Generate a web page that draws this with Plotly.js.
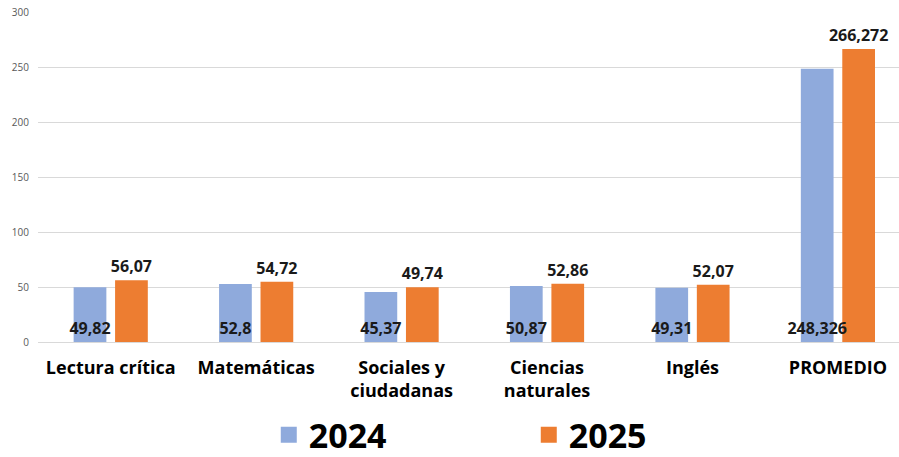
<!DOCTYPE html>
<html>
<head>
<meta charset="utf-8">
<script src="https://cdn.plot.ly/plotly-3.0.1.min.js"></script>
<style>html,body{margin:0;padding:0;background:#fff;}#chart{width:899px;height:457px;}</style>
</head>
<body>
<div id="chart"></div>
<script>
const categories = ["Lectura crítica", "Matemáticas", "Sociales y<br>ciudadanas", "Ciencias<br>naturales", "Inglés", "PROMEDIO"];
const values2024 = [49.82, 52.8, 45.37, 50.87, 49.31, 248.326];
const values2025 = [56.07, 54.72, 49.74, 52.86, 52.07, 266.272];
const labels2024 = ["49,82", "52,8", "45,37", "50,87", "49,31", "248,326"];
const labels2025 = ["56,07", "54,72", "49,74", "52,86", "52,07", "266,272"];
const yTicks = [0, 50, 100, 150, 200, 250, 300];
const COLOR_2024 = '#8faadc';
const COLOR_2025 = '#ed7d31';

const FONT = "'Open Sans', 'Noto Sans', sans-serif";

const traces = [
  {
    type: 'bar', name: '2025', x: categories, y: values2025,
    width: 0.225, offset: 0.03, showlegend: false,
    marker: {color: COLOR_2025},
    text: labels2025, textposition: 'outside', textangle: 0,
    constraintext: 'none', cliponaxis: false,
    outsidetextfont: {family: FONT, size: 16, color: '#1a1a1a', weight: 'bold'},
    hoverinfo: 'skip'
  },
  {
    type: 'bar', name: '2024', x: categories, y: values2024,
    width: 0.225, offset: -0.255, showlegend: false,
    marker: {color: COLOR_2024},
    text: labels2024, textposition: 'inside', insidetextanchor: 'start',
    textangle: 0, constraintext: 'none', cliponaxis: false,
    insidetextfont: {family: FONT, size: 16, color: '#1a1a1a', weight: 'bold'},
    hoverinfo: 'skip'
  },
  {
    type: 'scatter', mode: 'markers', name: '2024', x: [null], y: [null],
    marker: {symbol: 'square', size: 16, color: COLOR_2024}, legendrank: 1,
    hoverinfo: 'skip'
  },
  {
    type: 'scatter', mode: 'markers', name: '2025', x: [null], y: [null],
    marker: {symbol: 'square', size: 16, color: COLOR_2025}, legendrank: 2,
    hoverinfo: 'skip'
  }
];

const layout = {
  width: 899, height: 457,
  margin: {l: 38, r: 0, t: 12, b: 115, autoexpand: false},
  paper_bgcolor: '#ffffff', plot_bgcolor: '#ffffff',
  barmode: 'overlay',
  showlegend: true,
  legend: {
    orientation: 'h', x: 0.57, xanchor: 'center',
    yref: 'container', y: 0.048, yanchor: 'middle',
    font: {family: FONT, size: 34, color: '#000000', weight: 'bold'},
    entrywidth: 215, itemsizing: 'trace'
  },
  xaxis: {
    type: 'category', range: [-0.5, 5.42],
    showgrid: false, zeroline: false, showline: false, ticks: '',
    tickfont: {family: FONT, size: 18, color: '#000000', weight: 'bold'},
    ticklabelstandoff: 13, fixedrange: true
  },
  yaxis: {
    range: [0, 300], tickvals: yTicks, ticktext: yTicks.map(String),
    showgrid: true, gridcolor: '#d9d9d9', gridwidth: 1,
    zeroline: true, zerolinecolor: '#d9d9d9', zerolinewidth: 1,
    showline: false, ticks: '',
    tickfont: {family: FONT, size: 10, color: '#595959'},
    ticklabelstandoff: 8, fixedrange: true
  }
};

Plotly.newPlot('chart', traces, layout, {displayModeBar: false, staticPlot: true});
</script>
</body>
</html>
